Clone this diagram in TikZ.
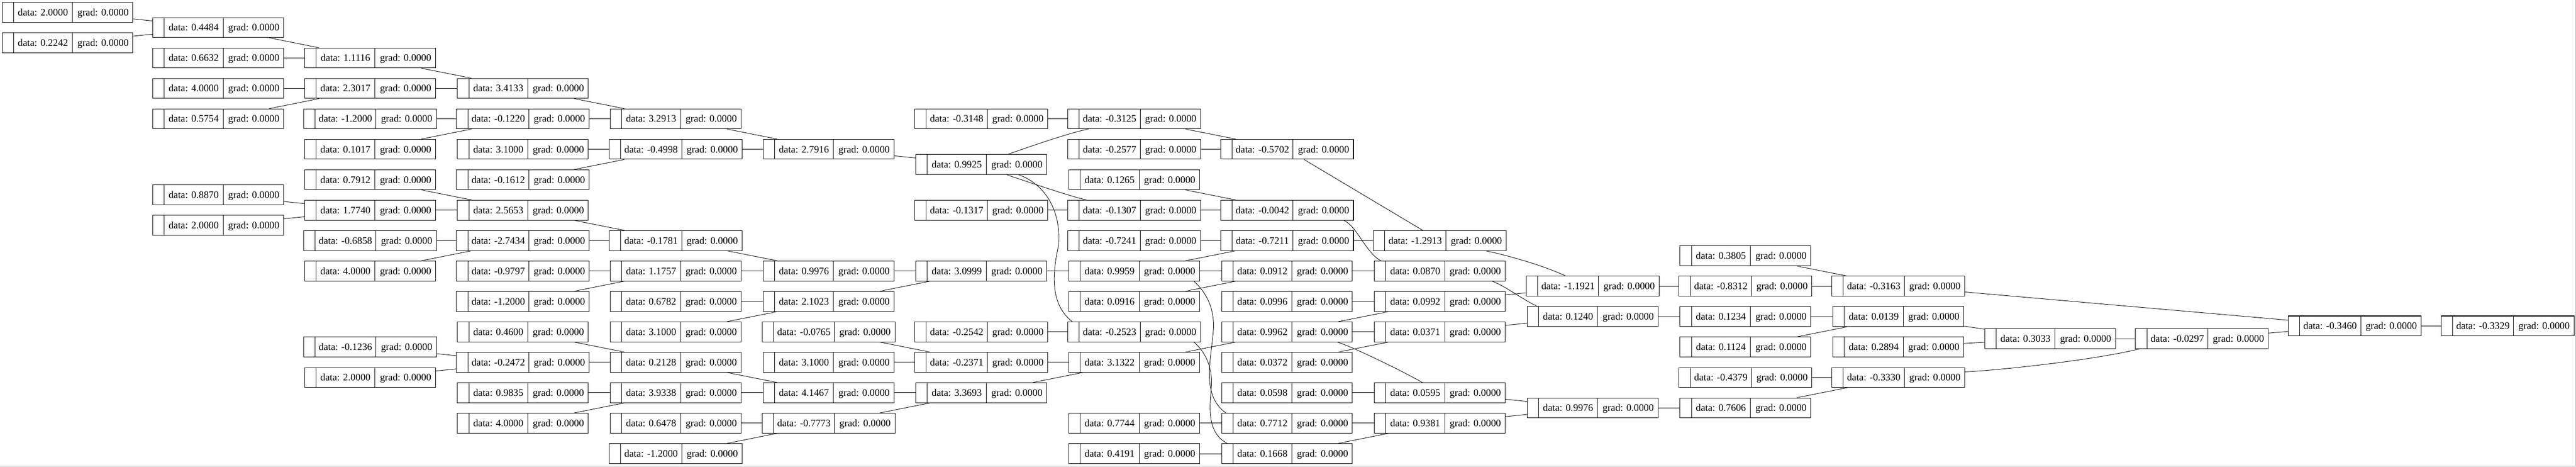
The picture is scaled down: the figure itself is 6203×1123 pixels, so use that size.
\documentclass[tikz,border=0pt]{standalone}
\usepackage{fontspec}
\setmainfont{Liberation Serif}
\usetikzlibrary{calc}
\tikzset{
  vbox/.style={draw, line width=0.65pt, minimum height=24pt, inner sep=0pt},
  vsep/.style={line width=0.45pt},
  vtext/.style={font=\fontsize{12}{14}\selectfont, inner sep=0pt, text height=8pt, text depth=0pt},
  link/.style={line width=0.55pt},
  frameline/.style={draw=black!30, line width=0.6pt},
}
\newcommand\vnode[5]{%
  \node[vbox, minimum width={(173+#4)*0.5pt}] (#1) at (#2,#3) {};
  \draw[vsep] ([xshift=14pt]#1.north west) -- ([xshift=14pt]#1.south west);
  \draw[vsep] ([xshift={(28+#4)*0.5pt}]#1.north west) -- ([xshift={(28+#4)*0.5pt}]#1.south west);
  \node[vtext] at ([xshift={(28+#4/2)*0.5pt}]#1.west) {data: #5};
  \node[vtext] at ([xshift=-36.25pt]#1.east) {grad: 0.0000};
}
\newcommand\pv[4]{\vnode{#1}{#2}{#3}{142}{#4}}
\newcommand\nv[4]{\vnode{#1}{#2}{#3}{147}{#4}}
\begin{document}
\begin{tikzpicture}[x=0.5pt, y=-0.5pt]
\useasboundingbox (0,0) rectangle (6203,1123);
\draw[frameline] (6202.4,0) -- (6202.4,1122.4) -- (0,1122.4);
% column 0
\pv{a1}{162.5}{29.7}{2.0000}
\pv{a2}{162.5}{102.9}{0.2242}
% column 1
\pv{b1}{525.5}{66.3}{0.4484}
\pv{b2}{525.5}{139.6}{0.6632}
\pv{b3}{525.5}{212.8}{4.0000}
\pv{b4}{525.5}{286.0}{0.5754}
\pv{b5}{525.5}{469.1}{0.8870}
\pv{b6}{525.5}{542.4}{2.0000}
% column 2
\pv{c1}{891}{139.6}{1.1116}
\pv{c2}{891}{212.8}{2.3017}
\nv{c3}{891}{286.0}{-1.2000}
\pv{c4}{891}{359.3}{0.1017}
\pv{c5}{891}{432.5}{0.7912}
\pv{c6}{891}{505.8}{1.7740}
\nv{c7}{891}{579.0}{-0.6858}
\pv{c8}{891}{652.2}{4.0000}
\nv{c9}{891}{835.3}{-0.1236}
\pv{c10}{891}{908.6}{2.0000}
% column 3
\pv{d1}{1259}{212.8}{3.4133}
\nv{d2}{1259}{286.0}{-0.1220}
\pv{d3}{1259}{359.3}{3.1000}
\nv{d4}{1259}{432.5}{-0.1612}
\pv{d5}{1259}{505.8}{2.5653}
\nv{d6}{1259}{579.0}{-2.7434}
\nv{d7}{1259}{652.2}{-0.9797}
\nv{d8}{1259}{725.5}{-1.2000}
\pv{d9}{1259}{798.7}{0.4600}
\nv{d10}{1259}{872.0}{-0.2472}
\pv{d11}{1259}{945.2}{0.9835}
\pv{d12}{1259}{1018.4}{4.0000}
% column 4
\pv{e1}{1627}{286.0}{3.2913}
\nv{e2}{1627}{359.3}{-0.4998}
\nv{e3}{1627}{579.0}{-0.1781}
\pv{e4}{1627}{652.2}{1.1757}
\pv{e5}{1627}{725.5}{0.6782}
\pv{e6}{1627}{798.7}{3.1000}
\pv{e7}{1627}{872.0}{0.2128}
\pv{e8}{1627}{945.2}{3.9338}
\pv{e9}{1627}{1018.4}{0.6478}
\nv{e10}{1627}{1091.7}{-1.2000}
% column 5
\pv{f1}{1995}{359.3}{2.7916}
\pv{f2}{1995}{652.2}{0.9976}
\pv{f3}{1995}{725.5}{2.1023}
\nv{f4}{1995}{798.7}{-0.0765}
\pv{f5}{1995}{872.0}{3.1000}
\pv{f6}{1995}{945.2}{4.1467}
\nv{f7}{1995}{1018.4}{-0.7773}
% column 6
\nv{g1}{2363}{286.0}{-0.3148}
\pv{g2}{2363}{395.9}{0.9925}
\nv{g3}{2363}{505.8}{-0.1317}
\pv{g4}{2363}{652.2}{3.0999}
\nv{g5}{2363}{798.7}{-0.2542}
\nv{g6}{2363}{872.0}{-0.2371}
\pv{g7}{2363}{945.2}{3.3693}
% column 7
\nv{h1}{2731}{286.0}{-0.3125}
\nv{h2}{2731}{359.3}{-0.2577}
\pv{h3}{2731}{432.5}{0.1265}
\nv{h4}{2731}{505.8}{-0.1307}
\nv{h5}{2731}{579.0}{-0.7241}
\pv{h6}{2731}{652.2}{0.9959}
\pv{h7}{2731}{725.5}{0.0916}
\nv{h8}{2731}{798.7}{-0.2523}
\pv{h9}{2731}{872.0}{3.1322}
\pv{h10}{2731}{1018.4}{0.7744}
\pv{h11}{2731}{1091.7}{0.4191}
% column 8
\nv{i1}{3099}{359.3}{-0.5702}
\nv{i2}{3099}{505.8}{-0.0042}
\nv{i3}{3099}{579.0}{-0.7211}
\pv{i4}{3099}{652.2}{0.0912}
\pv{i5}{3099}{725.5}{0.0996}
\pv{i6}{3099}{798.7}{0.9962}
\pv{i7}{3099}{872.0}{0.0372}
\pv{i8}{3099}{945.2}{0.0598}
\pv{i9}{3099}{1018.4}{0.7712}
\pv{i10}{3099}{1091.7}{0.1668}
% column 9
\nv{j1}{3467}{579.0}{-1.2913}
\pv{j2}{3467}{652.2}{0.0870}
\pv{j3}{3467}{725.5}{0.0992}
\pv{j4}{3467}{798.7}{0.0371}
\pv{j5}{3467}{945.2}{0.0595}
\pv{j6}{3467}{1018.4}{0.9381}
% column 10
\nv{l1}{3835}{688.9}{-1.1921}
\pv{l2}{3835}{762.1}{0.1240}
\pv{l3}{3835}{981.8}{0.9976}
% column 11
\pv{m1}{4203}{615.6}{0.3805}
\nv{m2}{4203}{688.9}{-0.8312}
\pv{m3}{4203}{762.1}{0.1234}
\pv{m4}{4203}{835.3}{0.1124}
\nv{m5}{4203}{908.6}{-0.4379}
\pv{m6}{4203}{981.8}{0.7606}
% column 12
\nv{n1}{4571}{688.9}{-0.3163}
\pv{n2}{4571}{762.1}{0.0139}
\pv{n3}{4571}{835.3}{0.2894}
\nv{n4}{4571}{908.6}{-0.3330}
% columns 13-16
\pv{o1}{4936.5}{815}{0.3033}
\nv{p1}{5302}{815}{-0.0297}
\nv{q1}{5670}{784.5}{-0.3460}
\nv{r1}{6038}{784.5}{-0.3329}
% straight connectors
\foreach \s/\t in {a1/b1,a2/b1,b1/c1,b2/c1,b3/c2,b4/c2,b5/c6,b6/c6,
  c1/d1,c2/d1,c3/d2,c4/d2,c5/d5,c6/d5,c7/d6,c8/d6,c9/d10,c10/d10,
  d1/e1,d2/e1,d3/e2,d4/e2,d5/e3,d6/e3,d7/e4,d8/e4,d9/e7,d10/e7,d11/e8,d12/e8,
  e1/f1,e2/f1,e3/f2,e4/f2,e5/f3,e6/f3,e7/f6,e8/f6,e9/f7,e10/f7,
  f1/g2,f2/g4,f3/g4,f4/g6,f5/g6,f6/g7,f7/g7,
  g1/h1,g3/h4,g5/h8,g4/h6,g6/h9,g7/h9,
  h1/i1,h2/i1,h3/i2,h4/i2,h5/i3,h6/i3,h6/i4,h7/i4,h9/i6,h10/i9,h11/i10,
  i1/j1,i3/j1,i4/j2,i5/j3,i6/j3,i6/j4,i7/j4,i8/j5,i9/j6,i10/j6,
  j3/l1,j4/l2,j5/l3,j6/l3,
  l1/m2,l2/m3,l3/m6,
  m1/n1,m2/n1,m3/n2,m4/n2,m5/n4,m6/n4,
  n2/o1,n3/o1,o1/p1,n1/q1,p1/q1,q1/r1}
  {\draw[link] (\s) -- (\t);}
% curved connectors
\draw[link] ($(g2.north)+(64.5,0)$) .. controls (2470,356) and (2580,318) .. ($(h1.south)+(-110,0)$);
\draw[link] ($(g2.south)+(61,0)$) .. controls (2467,435) and (2575,472) .. ($(h4.north)+(-115.5,0)$);
\draw[link] ($(g2.south)+(89.6,0)$) .. controls (2510,440) and (2556,500) .. (2549,590)
  .. controls (2536,650) and (2525,730) .. ($(h8.north west)+(11.5,0)$);
\draw[link] ($(h6.south)+(144,0)$) .. controls (2900,700) and (2924,735) .. (2922,790)
  .. controls (2918,860) and (2890,950) .. ($(i9.north west)+(11,0)$);
\draw[link] ($(h8.south)+(144,0)$) .. controls (2900,845) and (2920,880) .. (2917,930)
  .. controls (2913,980) and (2905,1040) .. ($(i10.north west)+(14,0)$);
\draw[link] ($(i2.south)+(137,0)$) .. controls (3268,545) and (3290,610) .. ($(j2.north west)+(16.5,0)$);
\draw[link] ($(j1.south)+(110,0)$) .. controls (3625,613) and (3720,640) .. ($(l1.north)+(-65,0)$);
\draw[link] ($(j2.south)+(126,0)$) .. controls (3625,688) and (3672,725) .. ($(l2.north west)+(26,0)$);
\draw[link] ($(i6.south)+(121.7,0)$) .. controls (3265,838) and (3390,900) .. ($(j5.north)+(-42,0)$);
\draw[link] ($(n4.east)+(0,-13.6)$) .. controls (4830,890) and (5050,865) .. ($(p1.south)+(-150,0)$);
\end{tikzpicture}
\end{document}
